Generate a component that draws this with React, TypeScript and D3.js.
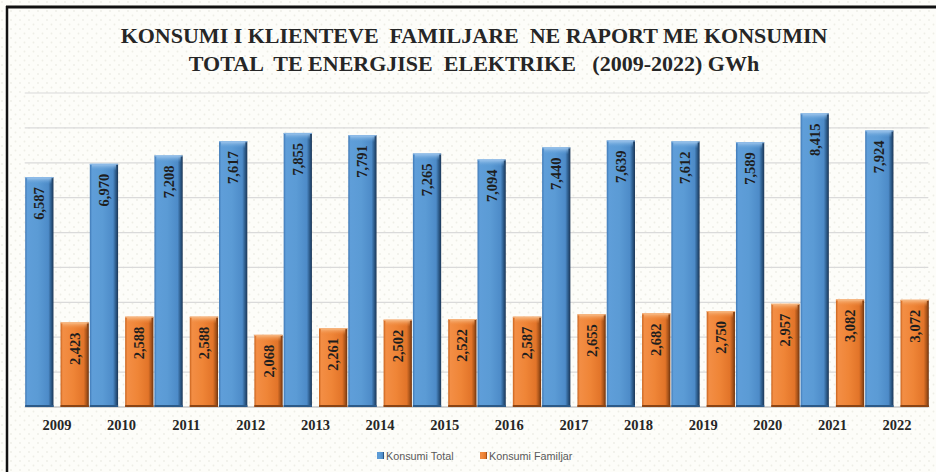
import React from 'react';
import * as d3 from 'd3';

const years = ['2009','2010','2011','2012','2013','2014','2015','2016','2017','2018','2019','2020','2021','2022'];
const totalValues = [6587, 6970, 7208, 7617, 7855, 7791, 7265, 7094, 7440, 7639, 7612, 7589, 8415, 7924];
const familyValues = [2423, 2588, 2588, 2068, 2261, 2502, 2522, 2587, 2655, 2682, 2750, 2957, 3082, 3072];
const seriesNames = ['Konsumi Total', 'Konsumi Familjar'];
const gridTicks = [0, 1000, 2000, 3000, 4000, 5000, 6000, 7000, 8000, 9000];
const titleLines = ['KONSUMI I KLIENTEVE  FAMILJARE  NE RAPORT ME KONSUMIN', 'TOTAL  TE ENERGJISE  ELEKTRIKE   (2009-2022) GWh'];

const W = 936, H = 472;
const fmt = d3.format(',');

export default function App() {
  const x = d3.scaleBand<string>().domain(years).range([24.7, 929.3]).padding(0);
  const x1 = d3.scaleBand<string>().domain(['t', 'f']).range([0.5, x.bandwidth() - 0.5]).paddingInner(0.2).paddingOuter(0);
  const y = d3.scaleLinear().domain([0, 9000]).range([407, 93]);
  const bw = x1.bandwidth();

  const series = [
    { key: 't', values: totalValues, grad: 'gBlue', cap: 'cBlue' },
    { key: 'f', values: familyValues, grad: 'gOrange', cap: 'cOrange' },
  ];

  return (
    <svg width={W} height={H} style={{ position: 'absolute', left: 0, top: 0 }} xmlns="http://www.w3.org/2000/svg">
      <defs>
        <pattern id="dots" width="9" height="9" patternUnits="userSpaceOnUse">
          <rect width="9" height="9" fill="#fdfdf9" />
          <circle cx="2" cy="2" r="0.9" fill="#eeeee6" />
          <circle cx="6.5" cy="6.5" r="0.9" fill="#eeeee6" />
        </pattern>
        <linearGradient id="gBlue" x1="0" x2="1" y1="0" y2="0">
          <stop offset="0" stopColor="#3f78b5" />
          <stop offset="0.08" stopColor="#5f9ed9" />
          <stop offset="0.45" stopColor="#5b9bd5" />
          <stop offset="0.82" stopColor="#4d8bc8" />
          <stop offset="0.92" stopColor="#2c5a88" />
          <stop offset="1" stopColor="#1c3656" />
        </linearGradient>
        <linearGradient id="cBlue" x1="0" x2="0" y1="0" y2="1">
          <stop offset="0" stopColor="#a9cdf0" />
          <stop offset="1" stopColor="#5b9bd5" stopOpacity="0" />
        </linearGradient>
        <linearGradient id="gOrange" x1="0" x2="1" y1="0" y2="0">
          <stop offset="0" stopColor="#c8621c" />
          <stop offset="0.08" stopColor="#f38e45" />
          <stop offset="0.45" stopColor="#ef8537" />
          <stop offset="0.82" stopColor="#e27429" />
          <stop offset="0.92" stopColor="#a9541a" />
          <stop offset="1" stopColor="#6e3410" />
        </linearGradient>
        <linearGradient id="cOrange" x1="0" x2="0" y1="0" y2="1">
          <stop offset="0" stopColor="#f9c08c" />
          <stop offset="1" stopColor="#ef8537" stopOpacity="0" />
        </linearGradient>
      </defs>
      <rect x={0} y={0} width={W} height={H} fill="url(#dots)" />
      <line x1={6} y1={7} x2={W} y2={7} stroke="#111" strokeWidth={3} />
      <line x1={7} y1={6} x2={7} y2={H} stroke="#111" strokeWidth={2.5} />

      {titleLines.map((t, i) => (
        <text key={i} x={474} y={43 + i * 28} textAnchor="middle" fontFamily="'Liberation Serif', serif" fontWeight="bold" fontSize={22} fill="#262626" style={{ whiteSpace: 'pre' }}>{t}</text>
      ))}

      {gridTicks.map(t => (
        <line key={t} x1={x.range()[0]} x2={x.range()[1] - 1} y1={y(t)} y2={y(t)} stroke={t === 0 ? '#c8c8c8' : '#dadada'} strokeWidth={t === 0 ? 1.5 : 1.2} />
      ))}

      {series.map(s => (
        <g key={s.key}>
          {years.map((yr, i) => {
            const v = s.values[i];
            const bx = (x(yr) as number) + (x1(s.key) as number);
            const top = y(v);
            const h = y(0) - top;
            return (
              <g key={yr}>
                <rect x={bx} y={top} width={bw} height={h} fill={`url(#${s.grad})`} />
                <rect x={bx + 2} y={top} width={bw - 4} height={7} fill={`url(#${s.cap})`} />
                <line x1={bx} x2={bx + bw} y1={top + 0.5} y2={top + 0.5} stroke={s.key === 't' ? '#8ab8e6' : '#f6b27a'} strokeWidth={1} />
                <line x1={bx} x2={bx + bw} y1={y(0) - 1} y2={y(0) - 1} stroke={s.key === 't' ? '#2c5a88' : '#8a4414'} strokeWidth={2} />
                <text transform={`translate(${bx + bw / 2},${top + 10}) rotate(-90)`} textAnchor="end" dominantBaseline="central" fontFamily="'Liberation Serif', serif" fontWeight="bold" fontSize={14.5} fill="#1e1e1e">{fmt(v)}</text>
              </g>
            );
          })}
        </g>
      ))}

      {years.map(yr => (
        <text key={yr} x={(x(yr) as number) + x.bandwidth() / 2} y={430} textAnchor="middle" fontFamily="'Liberation Serif', serif" fontWeight="bold" fontSize={14.5} fill="#262626">{yr}</text>
      ))}

      {seriesNames.map((n, i) => {
        const lx = [377, 480][i];
        return (
          <g key={n}>
            <rect x={lx} y={452} width={7} height={7} fill={`url(#${i === 0 ? 'gBlue' : 'gOrange'})`} />
            <text x={lx + 9} y={459.5} fontFamily="'Liberation Sans', sans-serif" fontSize={10.8} fill="#595959">{n}</text>
          </g>
        );
      })}
    </svg>
  );
}
